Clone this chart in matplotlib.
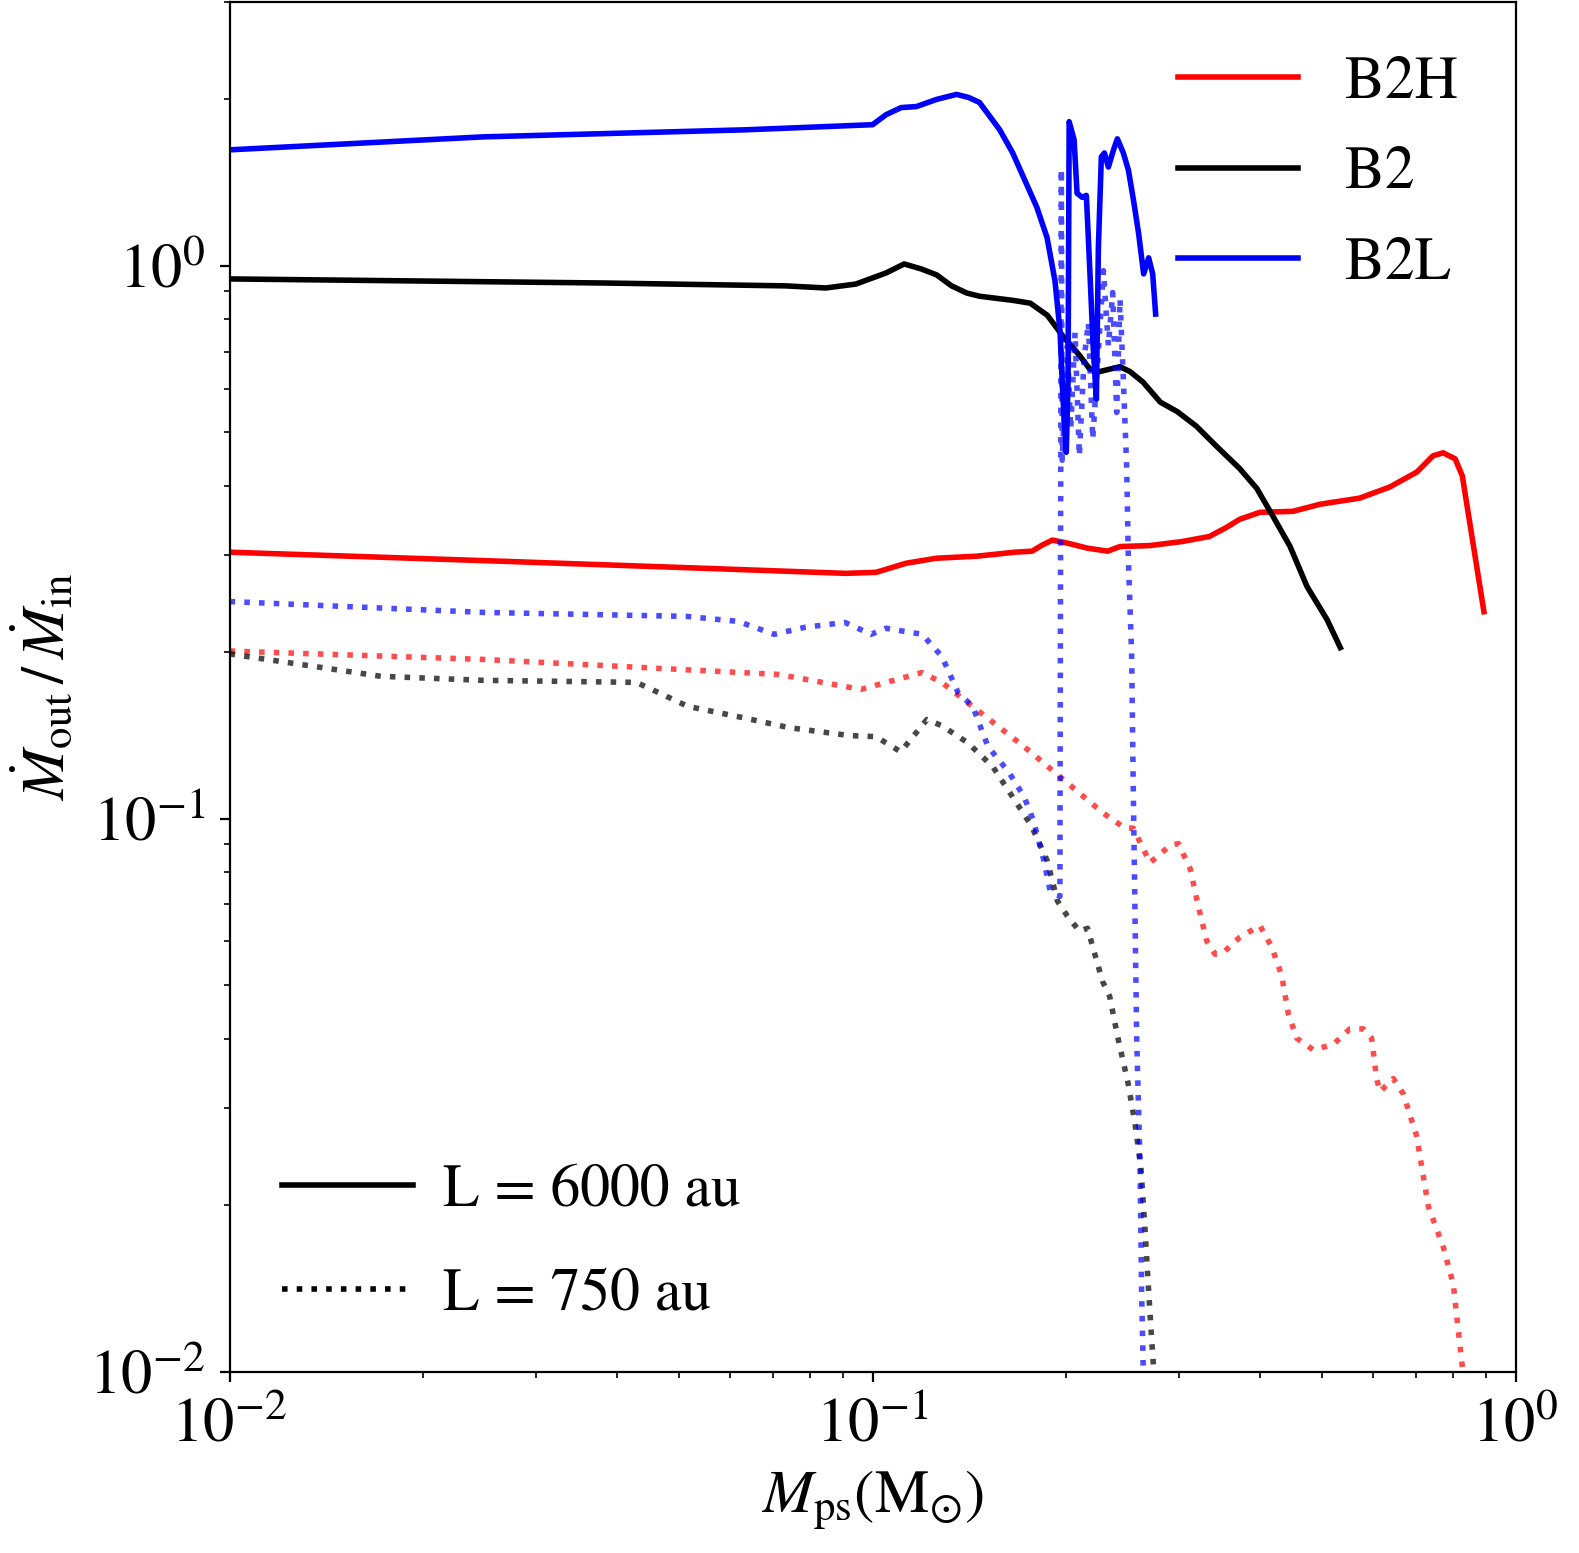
import matplotlib
matplotlib.use("Agg")
import matplotlib.pyplot as plt
from matplotlib.lines import Line2D

plt.rcParams['font.family'] = 'STIXGeneral'
plt.rcParams['mathtext.fontset'] = 'stix'
plt.rcParams['font.size'] = 21.5

# ---- L = 6000 au (solid) ----
b2h_x = [0.01, 0.0267, 0.0548, 0.0909, 0.1013, 0.1128, 0.1258, 0.1453, 0.1666, 0.1771,
         0.1836, 0.1904, 0.2009, 0.2160, 0.2321, 0.2425, 0.2702, 0.3031, 0.3341, 0.3552,
         0.3723, 0.4002, 0.4507, 0.4968, 0.5721, 0.6374, 0.7027, 0.7442, 0.7716, 0.8056,
         0.8265, 0.893]
b2h_y = [0.3035, 0.2922, 0.2838, 0.2779, 0.2791, 0.2899, 0.2960, 0.2985, 0.3035, 0.3048,
         0.3126, 0.3192, 0.3152, 0.3086, 0.3048, 0.3107, 0.3120, 0.3173, 0.3240, 0.3365,
         0.3480, 0.3583, 0.3598, 0.3706, 0.3801, 0.3981, 0.4239, 0.4534, 0.4591, 0.4477,
         0.4170, 0.2369]

b2_x = [0.01, 0.0383, 0.0732, 0.0846, 0.0942, 0.105, 0.112, 0.1191, 0.1258, 0.1327,
        0.1401, 0.1468, 0.1654, 0.1759, 0.1870, 0.1974, 0.2100, 0.2176, 0.2256, 0.2425,
        0.2514, 0.2635, 0.2802, 0.2978, 0.3188, 0.3426, 0.3723, 0.3958, 0.4192, 0.4459,
        0.4740, 0.5094, 0.5339]
b2_y = [0.947, 0.931, 0.920, 0.912, 0.927, 0.971, 1.008, 0.987, 0.963, 0.920,
        0.893, 0.881, 0.866, 0.856, 0.814, 0.748, 0.688, 0.651, 0.644, 0.657,
        0.644, 0.616, 0.567, 0.545, 0.513, 0.472, 0.430, 0.396, 0.353, 0.311,
        0.263, 0.229, 0.204]

b2l_x = [0.01, 0.0248, 0.0634, 0.1, 0.105, 0.1108, 0.117, 0.1258, 0.1351, 0.1411,
         0.1467, 0.1577, 0.1652, 0.1801, 0.1868, 0.1922, 0.1957, 0.1978, 0.2001, 0.2014,
         0.2022, 0.2058, 0.2080, 0.2119, 0.2150, 0.2157, 0.2181, 0.2204, 0.2229, 0.2245,
         0.2269, 0.2294, 0.2327, 0.2370, 0.2403, 0.2455, 0.2500, 0.2546, 0.2593, 0.2640,
         0.2688, 0.2727, 0.2756]
b2l_y = [1.621, 1.711, 1.762, 1.800, 1.877, 1.933, 1.941, 2.000, 2.042, 2.016,
         1.974, 1.762, 1.600, 1.276, 1.125, 0.939, 0.761, 0.574, 0.460, 0.617,
         1.823, 1.690, 1.353, 1.330, 1.341, 1.244, 0.939, 0.709, 0.574, 1.079,
         1.574, 1.600, 1.509, 1.621, 1.697, 1.600, 1.490, 1.314, 1.144, 0.967,
         1.034, 0.967, 0.818]

# ---- L = 750 au (dotted) ----
b2h_750_x = [0.01, 0.0248, 0.0715, 0.0959, 0.1194, 0.1282, 0.172, 0.2009, 0.2284, 0.2469,
             0.2543, 0.2701, 0.2903, 0.299, 0.3118, 0.3212, 0.331, 0.341, 0.3512, 0.3728,
             0.4004, 0.4175, 0.4328, 0.4433, 0.4568, 0.4847, 0.5208, 0.5527, 0.5797, 0.5973,
             0.6081, 0.6154, 0.6455, 0.6691, 0.7017, 0.7319, 0.7721, 0.8002, 0.8296]
b2h_750_y = [0.2011, 0.1942, 0.1824, 0.1714, 0.1839, 0.1764, 0.1351, 0.1161, 0.1024, 0.0962,
             0.0962, 0.0833, 0.0895, 0.0902, 0.0813, 0.0694, 0.0601, 0.0569, 0.0573, 0.0611,
             0.0641, 0.0587, 0.0521, 0.0444, 0.0401, 0.0382, 0.0391, 0.0417, 0.0417, 0.0401,
             0.0339, 0.0321, 0.0339, 0.0318, 0.0267, 0.0199, 0.0168, 0.0144, 0.0098]

b2_750_x = [0.01, 0.0172, 0.0248, 0.0429, 0.0453, 0.0516, 0.0618, 0.0741, 0.0922, 0.1012,
            0.1106, 0.1215, 0.1281, 0.1407, 0.1539, 0.1765, 0.1869, 0.1939, 0.2009, 0.2099,
            0.2160, 0.2199, 0.2279, 0.2338, 0.2406, 0.2495, 0.2559, 0.2614, 0.2652, 0.2681,
            0.2711, 0.2740]
b2_750_y = [0.1987, 0.181, 0.178, 0.1765, 0.1715, 0.1597, 0.153, 0.1462, 0.1414, 0.1408,
            0.1322, 0.1512, 0.1474, 0.1372, 0.1241, 0.0973, 0.084, 0.071, 0.0667, 0.0626,
            0.0634, 0.0588, 0.0508, 0.0477, 0.0403, 0.0334, 0.0282, 0.0234, 0.0182, 0.0147,
            0.0119, 0.0099]

b2l_750_x = [0.01, 0.0248, 0.0514, 0.0618, 0.0703, 0.0785, 0.0906, 0.0995, 0.1049, 0.1194,
             0.1282, 0.1358, 0.1432, 0.1512, 0.163, 0.172, 0.1778, 0.1843, 0.1888, 0.1956,
             0.1966, 0.1972, 0.2009, 0.2033, 0.2065, 0.2097, 0.2133, 0.2166, 0.22, 0.2231,
             0.2286, 0.2327, 0.2363, 0.2397, 0.2426, 0.2455, 0.2485, 0.2499, 0.2529, 0.2543,
             0.2559, 0.2575, 0.2606, 0.2621, 0.2637]
b2l_750_y = [0.2471, 0.2362, 0.2323, 0.2275, 0.2156, 0.222, 0.2265, 0.2156, 0.2211, 0.2156,
             0.1966, 0.1692, 0.1596, 0.1351, 0.1213, 0.1097, 0.0995, 0.0849, 0.0743, 0.0724,
             1.497, 0.445, 0.7167, 0.5066, 0.758, 0.453, 0.678, 0.79, 0.486, 0.624,
             0.98, 0.7167, 0.895, 0.543, 0.871, 0.624, 0.429, 0.296, 0.1985, 0.1168,
             0.0686, 0.0403, 0.0238, 0.01395, 0.0099]

fig = plt.figure(figsize=(7.895, 7.765), dpi=200)
ax = fig.add_axes([0.1454, 0.1167, 0.8144, 0.882])

lw = 2
ax.plot(b2h_x, b2h_y, color='red', lw=lw, label='B2H')
ax.plot(b2h_750_x, b2h_750_y, ':', color='red', alpha=0.7, lw=lw)
ax.plot(b2_x, b2_y, color='black', lw=lw, label='B2')
ax.plot(b2_750_x, b2_750_y, ':', color='black', alpha=0.72, lw=lw)
ax.plot(b2l_x, b2l_y, color='blue', lw=lw, label='B2L')
ax.plot(b2l_750_x, b2l_750_y, ':', color='blue', alpha=0.7, lw=lw)

ax.set_xscale('log')
ax.set_yscale('log')
ax.set_xlim(1e-2, 1)
ax.set_ylim(1e-2, 3)
ax.tick_params(axis='both', which='major', labelsize=22.5)
ax.tick_params(axis='x', which='major', pad=6)
ax.tick_params(axis='y', which='major', pad=5.3)

ax.set_xlabel(r'$M_{\rm ps}(\rm M_{\odot})$', fontsize=22, labelpad=5)
ax.set_ylabel(r'$\dot{M}_{\rm out}\,/\,\dot{M}_{\rm in}$', fontsize=22)

leg1 = ax.legend(loc='upper right', frameon=False, borderaxespad=0,
                 bbox_to_anchor=(0.974, 0.978), labelspacing=0.6)
ax.add_artist(leg1)
handles = [Line2D([], [], color='black', lw=lw),
           Line2D([], [], color='black', lw=lw, ls=':')]
ax.legend(handles, ['L = 6000 au', 'L = 750 au'], loc='lower left', frameon=False,
          borderaxespad=0, bbox_to_anchor=(0.022, 0.018),
          handlelength=2.2, handletextpad=0.5, labelspacing=0.83)

fig.savefig('out.png', dpi=200)
